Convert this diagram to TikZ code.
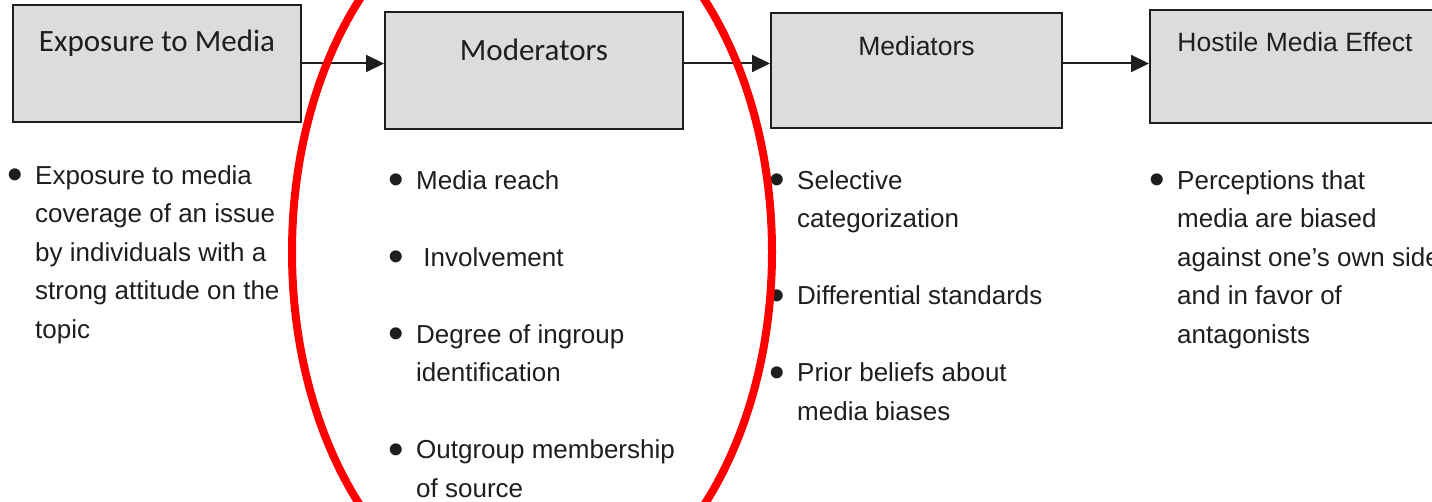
\documentclass[tikz,border=0pt]{standalone}
\usepackage{fontspec}
\setmainfont{Liberation Sans}
\newfontfamily\calfont{Carlito}
\usetikzlibrary{arrows.meta}
\definecolor{boxgray}{HTML}{DCDCDC}
\definecolor{ink}{HTML}{1E1E1E}
\tikzset{
    stagebox/.style={draw=ink, line width=2pt, fill=boxgray, inner sep=0pt},
    titlecal/.style={anchor=base, text=ink, inner sep=0pt, font=\calfont\fontsize{31}{36}\selectfont},
    titlearial/.style={anchor=base, text=ink, inner sep=0pt, font=\fontsize{26.5}{32}\selectfont},
    itemlist/.style={anchor=north west, align=left, inner sep=0pt, text=ink, font=\fontsize{26}{38.5}\selectfont},
    flow/.style={draw=ink, line width=2pt, -{Triangle[length=18pt,width=17pt]}},
}
\newcommand{\bul}{\llap{\raisebox{-5.5pt}{\scalebox{1.7}{\textbullet}}\hspace{12pt}}}
\begin{document}
\begin{tikzpicture}[x=1pt, y=-1pt]
    \useasboundingbox (0,0) rectangle (1432,502);
    \clip (0,0) rectangle (1432,502);

    \node[stagebox, minimum width=288, minimum height=117] (expo) at (157,63.5) {};
    \node[stagebox, minimum width=298, minimum height=117] (moder) at (534,70.5) {};
    \node[stagebox, minimum width=291, minimum height=115] (medi) at (916.5,70.5) {};
    \node[stagebox, minimum width=290, minimum height=113] (hme) at (1295,66.5) {};

    \node[titlecal] (expot) at ([yshift=-48pt]expo.north) {Exposure to Media};
    \node[titlecal] (modert) at ([yshift=-50pt]moder.north) {Moderators};
    \node[titlearial] (medit) at ([yshift=-44pt]medi.north) {Mediators};
    \node[titlearial] (hmet) at ([yshift=-43pt]hme.north) {Hostile Media Effect};

    \draw[flow] (expo.east) -- (expo.east -| moder.west);
    \draw[flow] (moder.east |- expo.east) -- (expo.east -| medi.west);
    \draw[flow] (medi.east |- expo.east) -- (expo.east -| hme.west);

    \node[itemlist] (expolist) at (35,165) {\bul Exposure to media\\coverage of an issue\\by individuals with a\\strong attitude on the\\topic};
    \node[itemlist] (moderlist) at (416,170) {\bul Media reach\\[38.5pt]\bul\ Involvement\\[38.5pt]\bul Degree of ingroup\\identification\\[38.5pt]\bul Outgroup membership\\of source};
    \node[itemlist] (medilist) at (797,170) {\bul Selective\\categorization\\[38.5pt]\bul Differential standards\\[38.5pt]\bul Prior beliefs about\\media biases};
    \node[itemlist] (hmelist) at (1177,170) {\bul Perceptions that\\media are biased\\against one’s own side\\and in favor of\\antagonists};

    \draw[red, line width=8pt] (532,252) ellipse [x radius=240pt, y radius=363pt];
\end{tikzpicture}
\end{document}
